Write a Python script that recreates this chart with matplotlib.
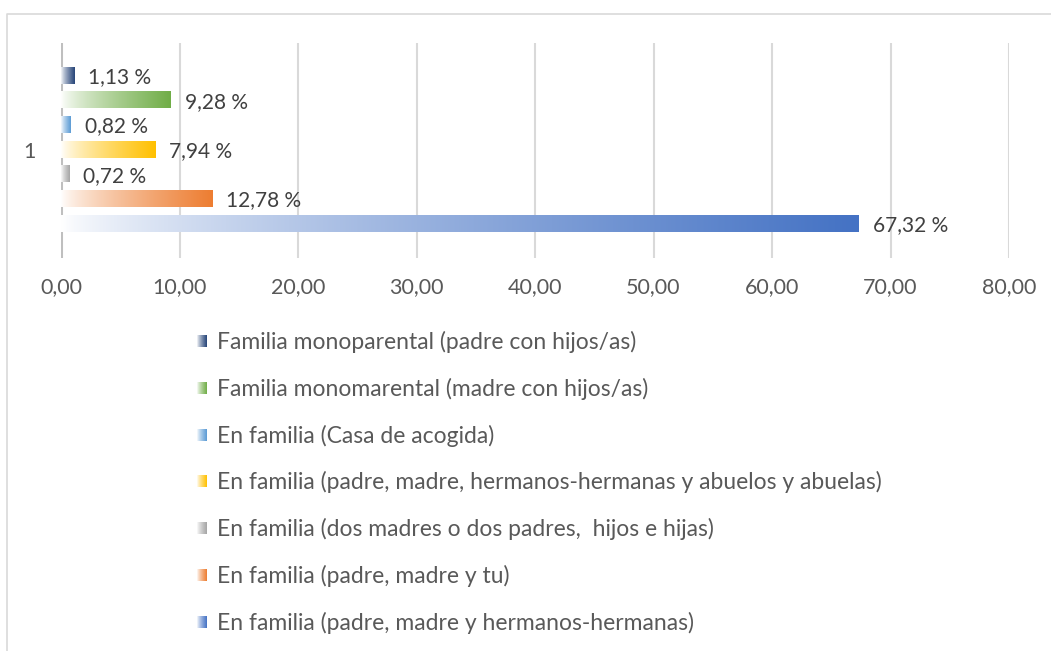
import matplotlib.pyplot as plt
import numpy as np
from matplotlib.colors import to_rgb
from matplotlib.lines import Line2D

# data, top to bottom as drawn
labels = [
    "Familia monoparental (padre con hijos/as)",
    "Familia monomarental (madre con hijos/as)",
    "En familia (Casa de acogida)",
    "En familia (padre, madre, hermanos-hermanas y abuelos y abuelas)",
    "En familia (dos madres o dos padres,  hijos e hijas)",
    "En familia (padre, madre y tu)",
    "En familia (padre, madre y hermanos-hermanas)",
]
values = [1.13, 9.28, 0.82, 7.94, 0.72, 12.78, 67.32]
colors = ["#264478", "#70AD47", "#5B9BD5", "#FFC000", "#A5A5A5", "#ED7D31", "#4472C4"]
xticks = [0, 10, 20, 30, 40, 50, 60, 70, 80]

W, H = 1051, 651
TXT = "#595959"
LBL = "#404040"
GRID = "#d9d9d9"
num_font = "Lato"
leg_font = ["Lato", "DejaVu Sans"]


def gradient(color, n=256):
    c = np.array(to_rgb(color))
    t = np.linspace(0.0, 1.0, n) ** 0.75
    start = np.array([1.0, 1.0, 1.0])
    rgb = start[None, :] * (1 - t[:, None]) + c[None, :] * t[:, None]
    return rgb[None, :, :]


fig = plt.figure(figsize=(W / 100, H / 100), dpi=100)

# outer chart frame (partly clipped like the reference)
fig.add_artist(Line2D([7 / W, 7 / W, 1.0], [0.0, 1 - 14 / H, 1 - 14 / H],
                      color=GRID, lw=1.2, transform=fig.transFigure))

ax = fig.add_axes([61 / W, 1 - 258 / H, (1009 - 61) / W, (258 - 43) / H])

bar_h = 0.65
for i, (v, c) in enumerate(zip(values, colors)):
    ax.imshow(gradient(c), extent=[0, v, i + bar_h / 2, i - bar_h / 2],
              aspect="auto", interpolation="bicubic", zorder=3)
    ax.annotate(f"{v:.2f} %".replace(".", ","), xy=(v, i), xytext=(10, -1),
                textcoords="offset points", va="center", ha="left",
                fontsize=15, color=LBL, family=num_font, zorder=4)

ax.set_xlim(0, 80)
ax.set_ylim(6 + 1.386, -1.325)

for s in ax.spines.values():
    s.set_visible(False)
ax.set_xticks(xticks)
ax.set_xticklabels([f"{t:.2f}".replace(".", ",") for t in xticks],
                   fontsize=15.5, color=TXT, family=num_font)
ax.set_yticks([3])
ax.set_yticklabels(["1"], fontsize=15.5, color=TXT, family=num_font)
ax.tick_params(axis="x", length=0, pad=14)
ax.tick_params(axis="y", length=0, pad=18)
ax.grid(axis="x", color=GRID, lw=1.5, zorder=0)
ax.axvline(0, color="#bfbfbf", lw=2.2, zorder=2)
ax.set_axisbelow(True)

# legend, one entry per line
for i, (lab, c) in enumerate(zip(labels, colors)):
    yc = 341 + i * 46.8
    max_ = fig.add_axes([197 / W, 1 - (yc + 6) / H, 10 / W, 12 / H])
    max_.imshow(gradient(c), aspect="auto", extent=[0, 1, 0, 1])
    max_.axis("off")
    fig.text(217 / W, 1 - (yc + 1) / H, lab, va="center", ha="left",
             fontsize=16.5, color=TXT, family=leg_font)

fig.savefig("out.png", dpi=100)
